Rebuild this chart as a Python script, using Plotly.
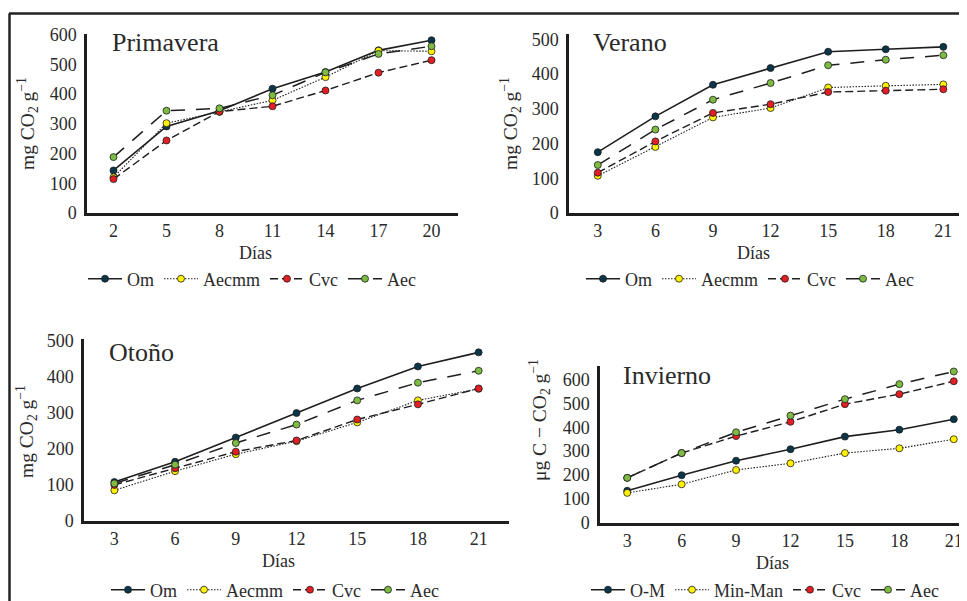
import plotly.graph_objects as go

W, H = 967, 601
OFF = 8  # page body margin offset

# ---------------- data ----------------
dias_pri = ["2", "5", "8", "11", "14", "17", "20"]
dias_std = ["3", "6", "9", "12", "15", "18", "21"]

pri_om = [143, 291, 344, 418, 474, 547, 581]
pri_aecmm = [120, 302, 340, 379, 457, 546, 544]
pri_cvc = [114, 244, 341, 359, 412, 472, 514]
pri_aec = [188, 344, 352, 396, 473, 535, 561]

ver_om = [175, 278, 369, 417, 464, 471, 478]
ver_aecmm = [107, 190, 275, 302, 361, 366, 370]
ver_cvc = [116, 206, 288, 313, 348, 352, 356]
ver_aec = [138, 240, 326, 374, 425, 441, 454]

oto_om = [108, 164, 231, 299, 367, 428, 467]
oto_aecmm = [85, 138, 185, 221, 273, 334, 366]
oto_cvc = [100, 146, 192, 223, 281, 323, 367]
oto_aec = [104, 156, 216, 267, 334, 383, 416]

inv_om = [134, 199, 260, 308, 361, 390, 434]
inv_minman = [125, 161, 221, 249, 292, 312, 350]
inv_cvc = [188, 292, 363, 423, 497, 539, 593]
inv_aec = [188, 292, 379, 449, 518, 581, 634]

names_std = ["Om", "Aecmm", "Cvc", "Aec"]
names_inv = ["O-M", "Min-Man", "Cvc", "Aec"]

# ---------------- styles ----------------
FONT = "Liberation Serif"
TXT = "#2a2a2a"
mcol = ["#0b3548", "#fff200", "#e31e24", "#7dbb42"]
dashes = ["solid", "1.5px,1.5px", "8px,4px", "14px,11px"]
lwidth = [1.6, 1.1, 1.4, 1.5]


def px(x):
    return (x - OFF) / W


def py(y):
    return 1 - (y - OFF) / H


fig = go.Figure()

panels = [
    dict(x=dias_pri, series=[pri_om, pri_aecmm, pri_cvc, pri_aec], names=names_std,
         xdom=[px(87), px(458)], ydom=[py(213), py(34)], yr=[0, 602], xr=[-0.5, 6.5],
         yt=list(range(0, 601, 100)), legend_pos=(83, 279)),
    dict(x=dias_std, series=[ver_om, ver_aecmm, ver_cvc, ver_aec], names=names_std,
         xdom=[px(569), 1.0], ydom=[py(213), py(34)], yr=[0, 515], xr=[-0.5, 6.55],
         yt=list(range(0, 501, 100)), legend_pos=(581, 279)),
    dict(x=dias_std, series=[oto_om, oto_aecmm, oto_cvc, oto_aec], names=names_std,
         xdom=[px(84), px(509)], ydom=[py(521), py(339)], yr=[0, 504], xr=[-0.5, 6.5],
         yt=list(range(0, 501, 100)), legend_pos=(106, 590)),
    dict(x=dias_std, series=[inv_om, inv_minman, inv_cvc, inv_aec], names=names_inv,
         xdom=[px(600), 1.0], ydom=[py(522.7), py(366)], yr=[0, 657], xr=[-0.5, 6.39],
         yt=list(range(0, 601, 100)), legend_pos=(586, 590)),
]

layout = dict(
    width=W, height=H, margin=dict(l=0, r=0, t=0, b=0, autoexpand=False),
    paper_bgcolor="white", plot_bgcolor="white",
    font=dict(family=FONT, size=18, color=TXT),
)

for i, p in enumerate(panels):
    k = "" if i == 0 else str(i + 1)
    xa, ya = "x" + k, "y" + k
    lg = "legend" + k
    for j in range(4):
        fig.add_trace(go.Scatter(
            x=p["x"], y=p["series"][j], name=p["names"][j], mode="lines+markers",
            xaxis=xa, yaxis=ya, legend=lg,
            line=dict(color="#1e1e1e", width=lwidth[j], dash=dashes[j]),
            marker=dict(size=7, color=mcol[j], line=dict(color="#1e1e1e", width=0.8)),
        ))
    layout["xaxis" + k] = dict(
        domain=p["xdom"], anchor=ya, type="category", range=p["xr"], automargin=False,
        showline=True, linewidth=2.5, linecolor="#1e1e1e", showgrid=False,
        zeroline=False, ticks="", tickfont=dict(size=18, color=TXT, family=FONT),
    )
    layout["yaxis" + k] = dict(
        domain=p["ydom"], anchor=xa, range=p["yr"], tickvals=p["yt"], automargin=False,
        showline=True, linewidth=2.5, linecolor="#1e1e1e", showgrid=False,
        zeroline=False, ticks="", ticklabelstandoff=4,
        tickfont=dict(size=18, color=TXT, family=FONT),
    )
    lx, ly = p["legend_pos"]
    layout[lg] = dict(
        orientation="h", x=px(lx), y=py(ly), xanchor="left", yanchor="middle",
        font=dict(size=18, color=TXT, family=FONT), bgcolor="rgba(0,0,0,0)",
        itemwidth=34, tracegroupgap=0,
    )

fig.update_layout(**layout)

# panel titles
titles = [("Primavera", 110, 43), ("Verano", 591, 43), ("Otoño", 107, 352), ("Invierno", 621, 375)]
for t, x, y in titles:
    fig.add_annotation(text=t, x=px(x), y=py(y), xref="paper", yref="paper",
                       xanchor="left", yanchor="middle", showarrow=False,
                       font=dict(size=26, color=TXT, family=FONT))

# x-axis titles
for x, y in [(255, 253), (753, 253), (278, 561), (772, 563)]:
    fig.add_annotation(text="Días", x=px(x), y=py(y), xref="paper", yref="paper",
                       xanchor="center", yanchor="middle",
                       showarrow=False, font=dict(size=18, color=TXT, family=FONT))

# y-axis titles
ytit = "mg CO<sub>2</sub> g<sup>−1</sup>"
ytit_inv = "μg C − CO<sub>2</sub> g<sup>−1</sup>"
for t, x, y in [(ytit, 27, 124), (ytit, 510, 124), (ytit, 26, 432), (ytit_inv, 540, 420)]:
    fig.add_annotation(text=t, x=px(x), y=py(y), xref="paper", yref="paper",
                       xanchor="center", yanchor="middle",
                       textangle=-90, showarrow=False,
                       font=dict(size=19.5, color=TXT, family=FONT))

# frame lines
fig.add_shape(type="line", xref="paper", yref="paper", x0=px(9), x1=1.0, y0=py(13.5), y1=py(13.5),
              line=dict(color="#222", width=2.5))
fig.add_shape(type="line", xref="paper", yref="paper", x0=px(9.5), x1=px(9.5), y0=py(13.5), y1=0,
              line=dict(color="#222", width=2.5))

fig.write_html("out.html")
